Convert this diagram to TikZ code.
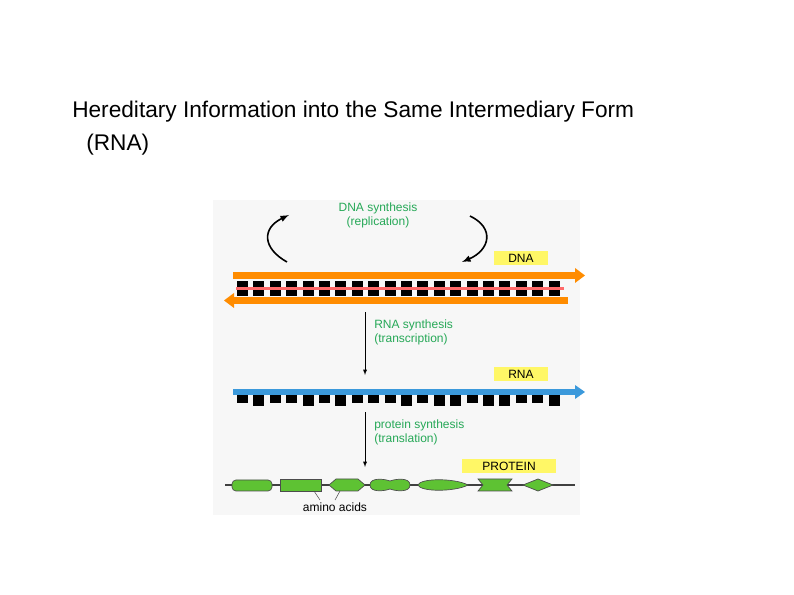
\documentclass[tikz,border=0pt]{standalone}
\usepackage{fontspec}
\setmainfont{Liberation Sans}
\begin{document}
\begin{tikzpicture}[x=1pt,y=-1pt,
  lbl/.style={text=green!45!teal!70!gray,font=\fontsize{9}{10}\selectfont,align=left,anchor=north west,inner sep=0},
  tag/.style={fill=yellow!60,font=\fontsize{9}{10}\selectfont,inner sep=1.5pt,minimum width=40pt,minimum height=11pt},
  aa/.style={fill=green!60!lime!70!black!80,draw=black!70,line width=0.5pt}]
\useasboundingbox (0,0) rectangle (595.5,446.25);
\begin{scope}[scale=0.75]
\node[anchor=base west,font=\fontsize{17}{20}\selectfont,inner sep=0] (t1) at (72,118) {Hereditary Information into the Same Intermediary Form};
\node[anchor=base west,font=\fontsize{17}{20}\selectfont,inner sep=0] (t2) at (86,151) {(RNA)};
\fill[gray!6] (213,200) rectangle (580,515);
% replication
\node[lbl,anchor=north,align=center] (rep) at (378,203) {DNA synthesis\\(replication)};
\draw[line width=1.2pt,-latex] (287,262) .. controls (262,248) and (262,228) .. (289,215);
\draw[line width=1.2pt,-latex] (470,216) .. controls (495,228) and (490,250) .. (462,262);
\node[tag] (dna) at (521,258) {DNA};
% DNA
\fill[orange!90!yellow] (233,272) rectangle (575,279);
\fill[orange!90!yellow] (575,268) -- (585,275.5) -- (575,283) -- cycle;
\fill[orange!90!yellow] (234,297) rectangle (568,304);
\fill[orange!90!yellow] (234,293) -- (224,300.5) -- (234,308) -- cycle;
\foreach \i in {0,...,19} \fill[black] (237+\i*16.4,281) rectangle (237+\i*16.4+11,296);
\fill[red!45!pink] (236,287) rectangle (564,290);
% transcription
\coordinate (a1) at (365,312);
\coordinate (a2) at (365,375);
\draw[-latex] (a1) -- (a2);
\node[lbl] (tr) at (374,320) {RNA synthesis\\(transcription)};
\node[tag] (rna) at (521,374) {RNA};
\fill[cyan!70!blue!80] (233,389) rectangle (575,395);
\fill[cyan!70!blue!80] (575,385) -- (585,392) -- (575,399) -- cycle;
\foreach \i/\h in {0/8,1/11,2/8,3/8,4/11,5/8,6/11,7/8,8/8,9/8,10/11,11/8,12/11,13/11,14/8,15/11,16/11,17/8,18/8,19/11} \fill[black] (237+\i*16.4,395) rectangle (237+\i*16.4+11,395+\h);
% translation
\coordinate (b1) at (365,412);
\coordinate (b2) at (365,467);
\draw[-latex] (b1) -- (b2);
\node[lbl] (tl) at (374,420) {protein synthesis\\(translation)};
\node[tag,minimum width=70pt] (prot) at (509,466) {PROTEIN};
\draw[line width=1.2pt,black!75] (225,485) -- (575,485);
\draw[aa,rounded corners=3pt] (232,480) rectangle (272,491);
\draw[aa] (280,479) rectangle (321,491);
\draw[aa] (329,485) -- (336,479) -- (358,479) -- (365,485) -- (358,491) -- (336,491) -- cycle;
\draw[aa] (370,485) .. controls (370,477) and (385,479) .. (390,481) .. controls (395,479) and (410,477) .. (410,485) .. controls (410,493) and (395,491) .. (390,489) .. controls (385,491) and (370,493) .. (370,485) -- cycle;
\draw[aa] (418,485) .. controls (420,478) and (455,478) .. (468,485) .. controls (455,492) and (420,492) .. (418,485) -- cycle;
\draw[aa] (478,479) -- (512,479) -- (507,485) -- (512,491) -- (478,491) -- (483,485) -- cycle;
\draw[aa] (523,485) -- (538,479) -- (553,485) -- (538,491) -- cycle;
\node[font=\fontsize{9}{10}\selectfont,inner sep=0] (am) at (335,507) {amino acids};
\draw[black!70] (314,491) -- (320,500);
\draw[black!70] (340,491) -- (335,500);
\end{scope}
\end{tikzpicture}
\end{document}
